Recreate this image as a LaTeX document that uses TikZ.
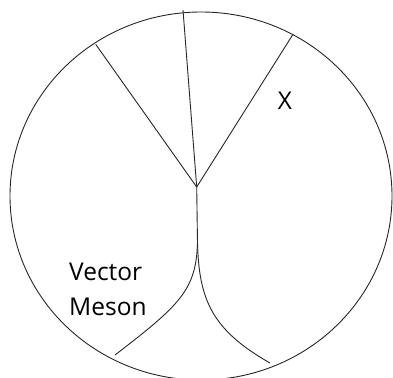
\documentclass[tikz,border=0pt]{standalone}
\usepackage{fontspec}
\setmainfont{Open Sans}
\begin{document}
\begin{tikzpicture}[x=1pt,y=-1pt,
  line/.style={line width=0.9pt,draw=black!85},
  lbl/.style={font=\fontsize{24.5}{35}\selectfont,inner sep=0pt,align=left}]
\useasboundingbox (0,0) rectangle (393,377);
\clip (0,0) rectangle (393,377);
\draw[line] (201,196) ellipse [x radius=191, y radius=184];
\coordinate (v) at (196.7,187);
\coordinate (top) at (183,10);
\coordinate (ul) at (95.7,44.3);
\coordinate (ur) at (293,34.3);
\coordinate (s) at (197.5,243);
\coordinate (bl) at (115,355);
\coordinate (br) at (270,363);
\draw[line] (v) -- (top);
\draw[line] (v) -- (ul);
\draw[line] (v) -- (ur);
\draw[line] (v) -- (s);
\draw[line] (s) .. controls (196,290) and (180,305) .. (bl);
\draw[line] (s) .. controls (199,300) and (212,330) .. (br);
\node[lbl,anchor=base] (x) at (285,110) {X};
\node[lbl,anchor=base west] (vm) at (69,315) {Vector\\Meson};
\end{tikzpicture}
\end{document}
